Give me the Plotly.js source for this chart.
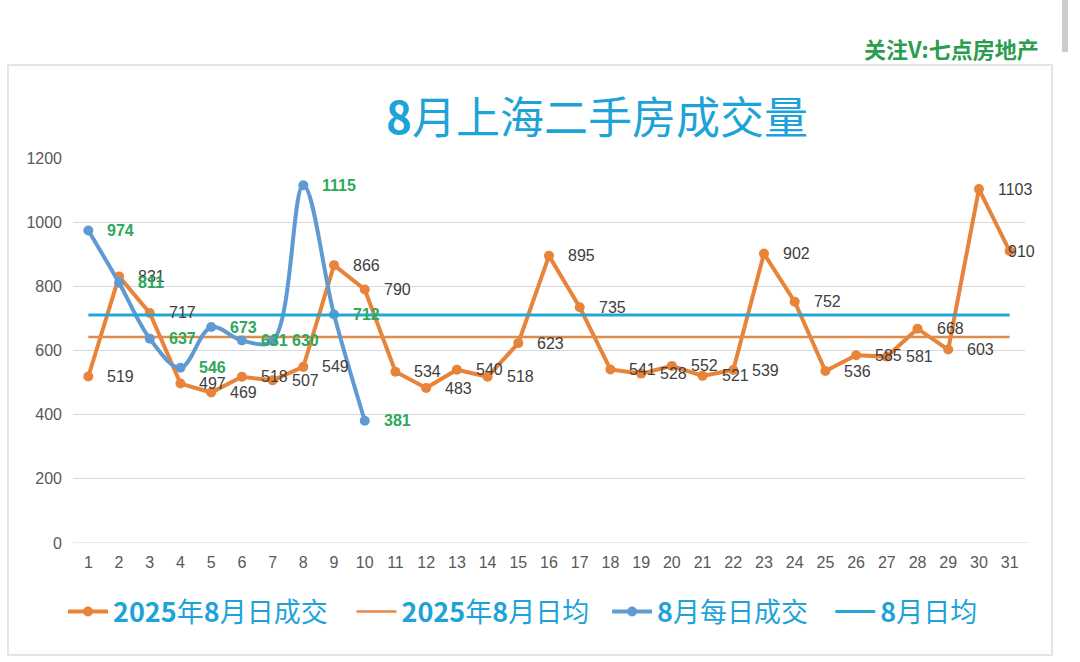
<!DOCTYPE html>
<html>
<head>
<meta charset="utf-8">
<script src="https://cdn.plot.ly/plotly-3.0.1.min.js"></script>
<style>
html,body{margin:0;padding:0;background:#fff;}
#chart{width:1080px;height:662px;}
</style>
</head>
<body>
<div id="chart"></div>
<script>
// ---- data ----
var days = [1,2,3,4,5,6,7,8,9,10,11,12,13,14,15,16,17,18,19,20,21,22,23,24,25,26,27,28,29,30,31];
var daily2025 = [519,831,717,497,469,518,507,549,866,790,534,483,540,518,623,895,735,541,528,552,521,539,902,752,536,585,581,668,603,1103,910];
var avg2025 = 642;
var daysAug = [1,2,3,4,5,6,7,8,9,10];
var dailyAug = [974,811,637,546,673,631,630,1115,712,381];
var avgAug = 711;
var avgX = [1,31];
var seriesNames = ['<b>2025</b>年<b>8</b>月日成交','<b>2025</b>年<b>8</b>月日均','<b>8</b>月每日成交','<b>8</b>月日均'];
var yTicks = [0,200,400,600,800,1000,1200];

// ---- styles ----
var cOrange = '#E8833A';
var cOrangeAvg = '#E08A4C';
var cBlue = '#5F9BD2';
var cCyan = '#22A8D2';
var cLabel = '#404040';
var cGreen = '#2EA85A';
var cTitle = '#1EA3D9';
var cjk = '"Noto Sans CJK SC", "Noto Sans", sans-serif';
var num = '"Liberation Sans", Arial, sans-serif';

var traces = [
  {x: days, y: daily2025, name: seriesNames[0], type: 'scatter', mode: 'lines+markers', legend: 'legend',
   line: {color: cOrange, width: 4}, marker: {color: cOrange, size: 10}},
  {x: avgX, y: [avg2025, avg2025], name: seriesNames[1], type: 'scatter', mode: 'lines', legend: 'legend2',
   line: {color: cOrangeAvg, width: 2.5}},
  {x: daysAug, y: dailyAug, name: seriesNames[2], type: 'scatter', mode: 'lines+markers', legend: 'legend3',
   line: {color: cBlue, width: 4, shape: 'spline', smoothing: 1}, marker: {color: cBlue, size: 10}},
  {x: avgX, y: [avgAug, avgAug], name: seriesNames[3], type: 'scatter', mode: 'lines', legend: 'legend4',
   line: {color: cCyan, width: 3}}
];

var annotations = [];
days.forEach(function(d, i){
  annotations.push({x: d, y: daily2025[i], xref: 'x', yref: 'y', text: String(daily2025[i]),
    showarrow: false, xanchor: 'left', yanchor: 'middle', xshift: (i === days.length - 1) ? -4 : 17,
    font: {family: num, size: 16, color: cLabel}});
});
daysAug.forEach(function(d, i){
  annotations.push({x: d, y: dailyAug[i], xref: 'x', yref: 'y', text: '<b>' + dailyAug[i] + '</b>',
    showarrow: false, xanchor: 'left', yanchor: 'middle', xshift: 17,
    font: {family: num, size: 16, color: cGreen}});
});
// title
annotations.push({xref: 'paper', yref: 'paper', x: 0.5504, y: 1.1117, xanchor: 'center', yanchor: 'middle',
  showarrow: false, text: '<b>8</b>月上海二手房成交量',
  font: {family: cjk, size: 44, color: cTitle}});
// watermark
annotations.push({xref: 'paper', yref: 'paper', x: 1.0168, y: 1.2857, xanchor: 'right', yanchor: 'middle',
  showarrow: false, text: '<b>关注V:七点房地产</b>',
  font: {family: cjk, size: 22, color: '#2A9D4E'}});

function leg(xp){
  return {orientation: 'h', x: xp, y: -0.179, xanchor: 'left', yanchor: 'middle',
    font: {family: cjk, size: 27, color: cTitle}, itemwidth: 40,
    bgcolor: 'rgba(0,0,0,0)'};
}

var layout = {
  width: 1080, height: 662,
  margin: {l: 73, r: 55, t: 158, b: 119},
  paper_bgcolor: '#ffffff', plot_bgcolor: '#ffffff',
  showlegend: true,
  legend: leg(-0.0105),
  legend2: leg(0.2925),
  legend3: leg(0.5610),
  legend4: leg(0.7955),
  xaxis: {range: [0.5, 31.5], tickmode: 'array', tickvals: days, ticktext: days.map(String),
    showgrid: false, zeroline: false, showline: false, ticks: '',
    tickfont: {family: num, size: 16, color: '#595959'}, ticklabelstandoff: 8, fixedrange: true},
  yaxis: {range: [0, 1200], tickmode: 'array', tickvals: yTicks, ticktext: yTicks.map(String),
    showgrid: true, gridcolor: '#D9D9D9', gridwidth: 1, zeroline: false, showline: false, ticks: '',
    tickfont: {family: num, size: 16, color: '#595959'}, ticklabelstandoff: 10, fixedrange: true},
  annotations: annotations,
  shapes: [
    {type: 'line', xref: 'paper', yref: 'y', x0: 0, x1: 1.005, y0: 0, y1: 0, line: {color: '#D9D9D9', width: 1}},
    {type: 'rect', xref: 'paper', yref: 'paper', x0: -0.0683, x1: 1.0284, y0: -0.2909, y1: 1.2416,
     line: {color: '#DDDDDD', width: 1.5}, fillcolor: 'rgba(0,0,0,0)', layer: 'below'},
    {type: 'rect', xref: 'paper', yref: 'paper', x0: 1.0389, x1: 1.0452, y0: 1.275, y1: 1.42,
     line: {width: 0}, fillcolor: '#CCCCCC', layer: 'below'}
  ]
};

Plotly.newPlot('chart', traces, layout, {displayModeBar: false, staticPlot: true});
</script>
</body>
</html>
